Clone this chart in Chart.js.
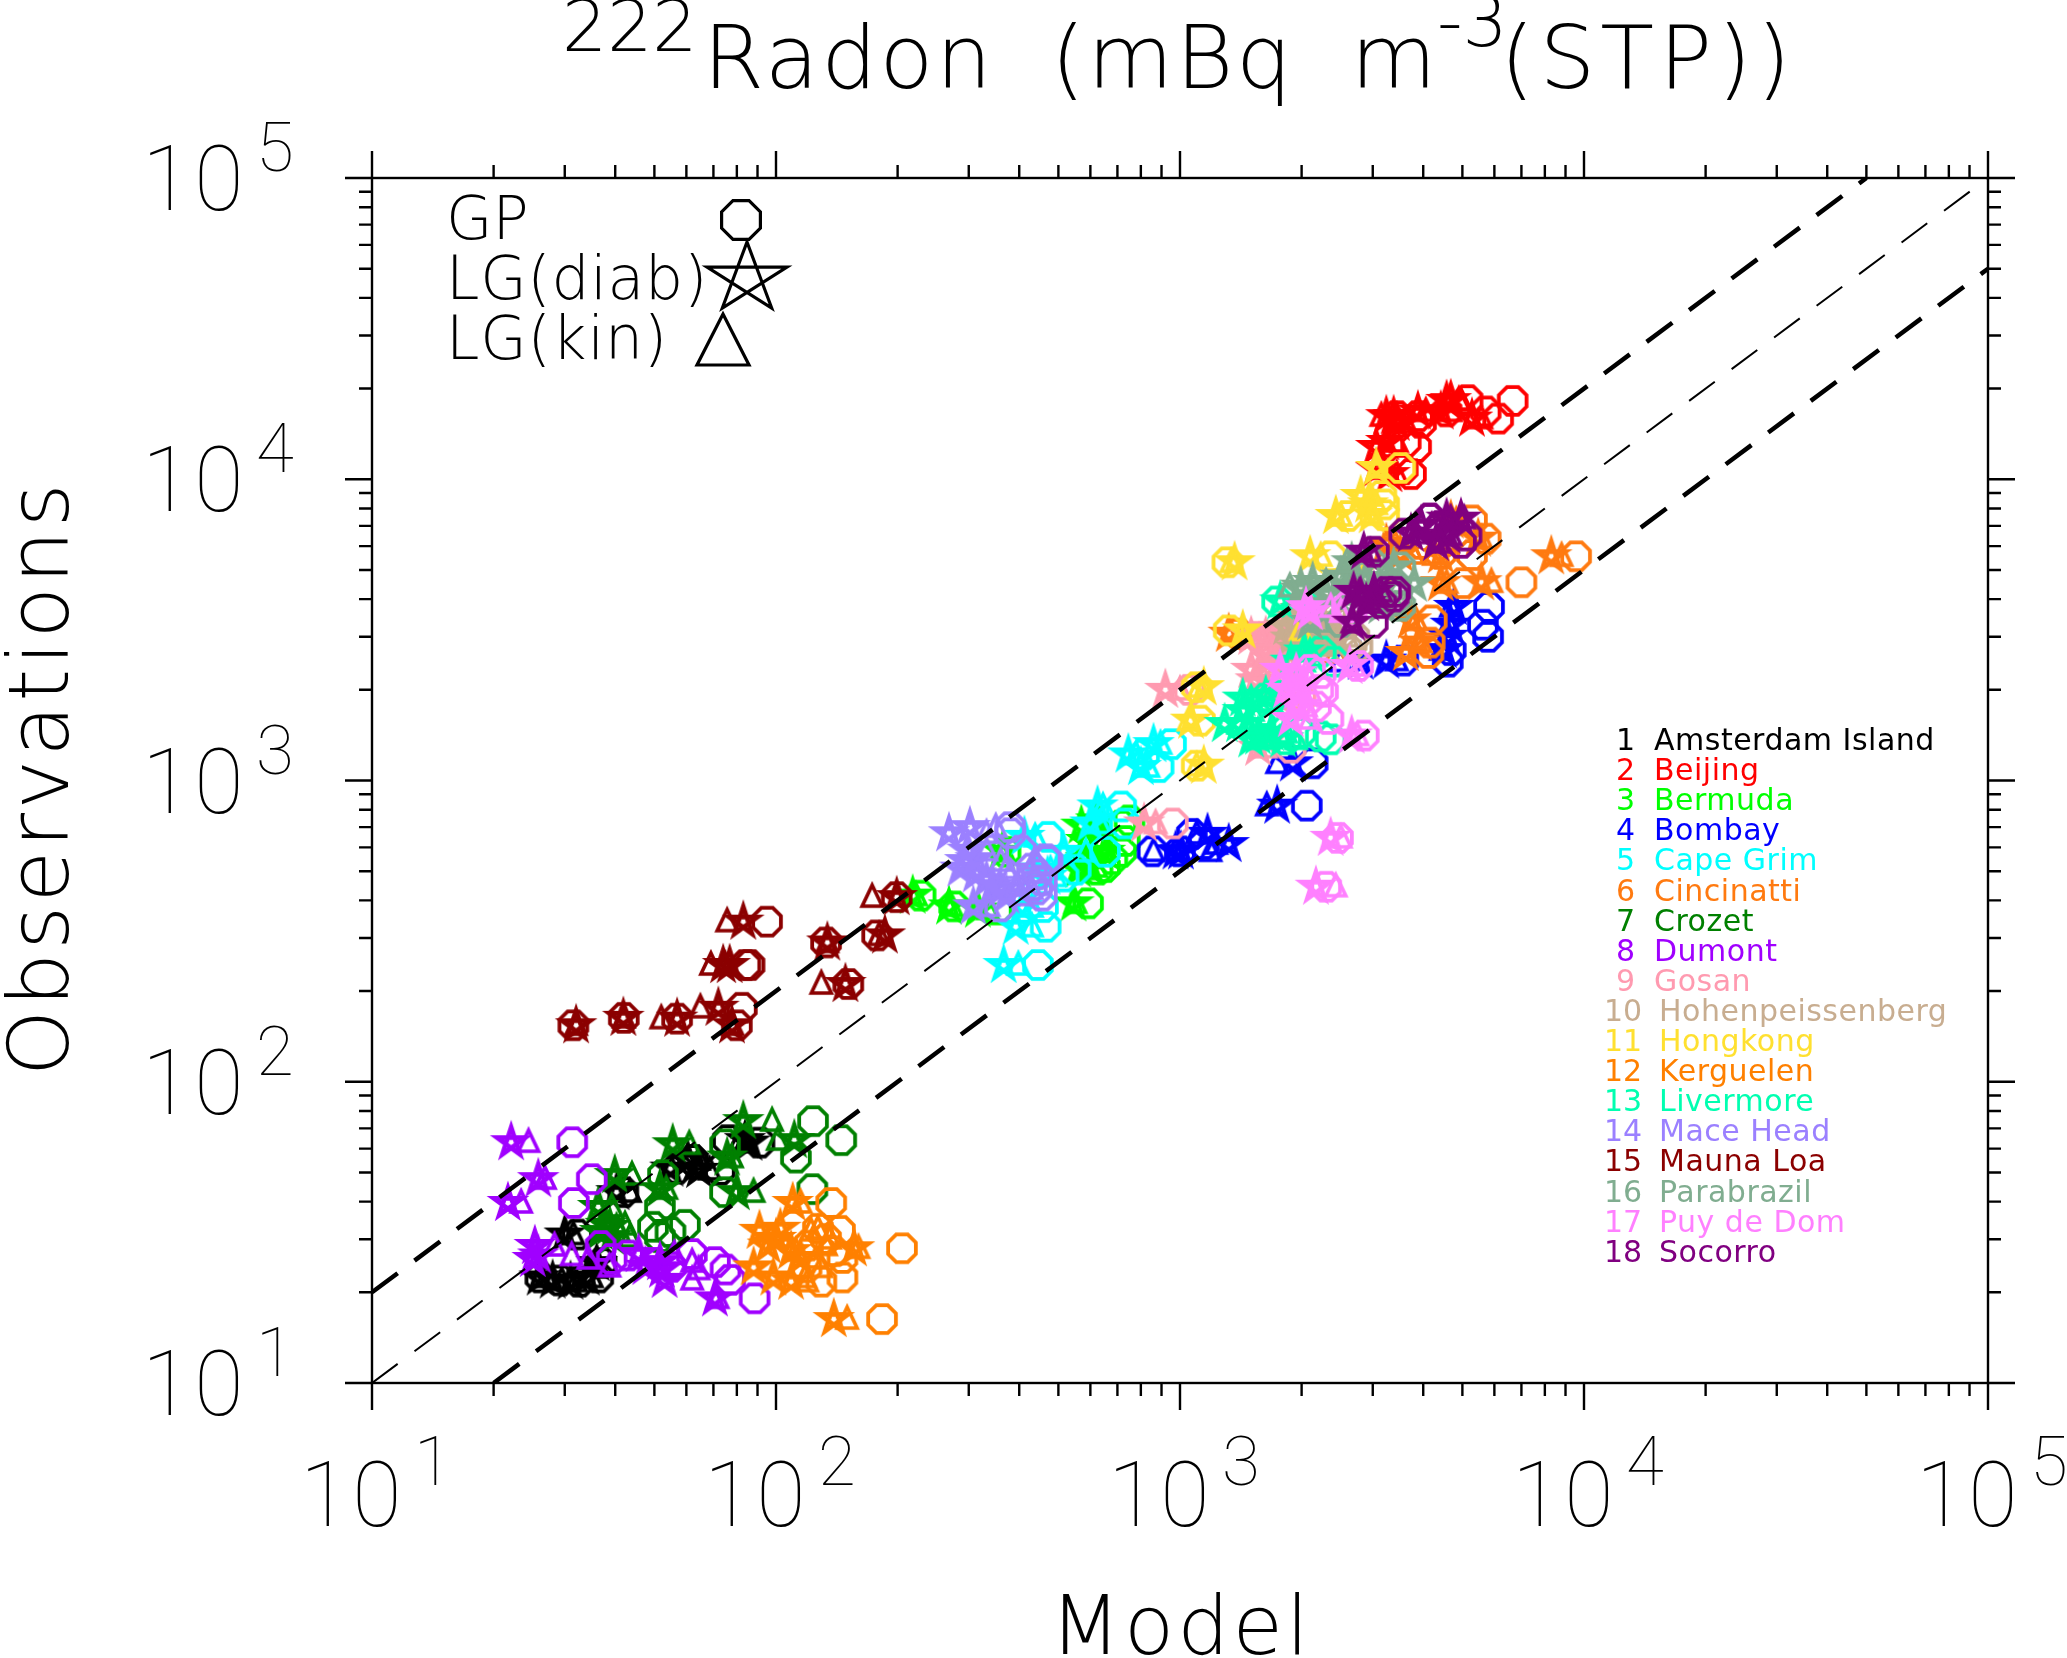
<!DOCTYPE html>
<html>
<head>
<meta charset="utf-8">
<title>222Radon</title>
<script src="https://cdn.jsdelivr.net/npm/chart.js@4"></script>
<style>
    html, body { margin: 0; padding: 0; background: #fff; }
    canvas { display: block; }
</style>
</head>
<body>
<canvas id="radonChart" width="2067" height="1658"></canvas>
<script>
// observations + model values, one row per month (GP octagon, LG diabatic star, LG kinematic triangle)
const stationNames = ['Amsterdam Island', 'Beijing', 'Bermuda', 'Bombay', 'Cape Grim', 'Cincinatti', 'Crozet', 'Dumont', 'Gosan',
    'Hohenpeissenberg', 'Hongkong', 'Kerguelen', 'Livermore', 'Mace Head', 'Mauna Loa', 'Parabrazil', 'Puy de Dom', 'Socorro'];
const stationColors = ['#000000', '#ff0000', '#00ff00', '#0000ff', '#00ffff', '#ff7a10', '#008000', '#a000ff', '#ff9ab0',
    '#c8ad90', '#ffe030', '#ff8000', '#00ffb0', '#9b80ff', '#8b0000', '#80ad90', '#ff80ff', '#800080'];

const amsterdamObs = [22.4, 21.9, 21.7, 22.4, 25, 31.1, 43, 51.5, 55, 51, 64, 62.8];
const amsterdamDiab = [26, 28, 31, 34, 36, 30, 40.3, 54.8, 60.5, 64.5, 83.8, 86];
const amsterdamKin = [27, 29.5, 32, 35, 36, 31.5, 43.5, 63.4, 64.5, 68.5, 81.5, 83.8];
const amsterdamGP = [26.1, 29.2, 32.6, 36.3, 37, 32.2, 41.9, 56.9, 62.3, 72.6, 76, 91];

const beijingObs = [18200, 15900, 18300, 16800, 16800, 16200, 16200, 15400, 12800, 13300, 10400, 10800];
const beijingDiab = [4570, 5280, 4680, 4420, 3880, 3380, 3240, 3440, 3060, 3240, 3300, 3060];
const beijingKin = [4960, 5570, 4900, 4680, 4060, 3440, 3150, 3620, 3240, 3440, 3440, 3110];
const beijingGP = [6660, 6130, 5150, 5710, 4570, 3880, 3440, 3950, 3840, 3620, 3730, 3560];

const bermudaObs = [415, 382, 373, 391, 580, 708, 737, 630, 580, 506, 516, 548];
const bermudaDiab = [218, 268, 316, 545, 363, 570, 620, 585, 652, 560, 600, 585];
const bermudaKin = [222, 272, 335, 552, 367, 633, 633, 645, 660, 600, 620, 575];
const bermudaGP = [228, 276, 352, 592, 370, 715, 750, 730, 715, 625, 652, 680];

const bombayObs = [582, 582, 665, 615, 1140, 825, 2500, 2480, 3770, 3290, 3000, 2710];
const bombayDiab = [975, 1005, 1170, 1320, 1902, 1740, 3240, 2800, 4770, 4680, 4600, 4500];
const bombayKin = [860, 1190, 1100, 1230, 1740, 1640, 3440, 2500, 4680, 4630, 4550, 4420];
const bombayGP = [855, 1000, 1070, 1145, 2130, 2060, 3570, 4600, 5820, 5620, 5790, 4680];

const capeGrimObs = [244, 327, 380, 650, 820, 720, 580, 480, 1320, 1108, 1220, 506];
const capeGrimDiab = [366, 392, 408, 412, 625, 600, 515, 470, 860, 800, 745, 438];
const capeGrimKin = [398, 430, 430, 438, 645, 633, 585, 492, 895, 835, 778, 478];
const capeGrimGP = [445, 465, 458, 472, 715, 730, 652, 515, 950, 885, 815, 552];

const cincinattiObs = [5550, 4550, 6350, 5600, 4520, 7300, 6100, 5650, 3400, 2870, 2650, 3070];
const cincinattiDiab = [8300, 5570, 5470, 4420, 4420, 4680, 3240, 3510, 3730, 3900, 3620, 1320];
const cincinattiKin = [8800, 5900, 5570, 4250, 4570, 4830, 3410, 3773, 3840, 3950, 2430, 1340];
const cincinattiGP = [9560, 7000, 5710, 5280, 5010, 5280, 3950, 4420, 4200, 4150, 4120, 1395];

const crozetObs = [74, 64, 56, 62, 49, 43, 44, 38.4, 33.5, 33, 30.5, 31.7];
const crozetDiab = [83, 111, 75.7, 55.5, 39.9, 80, 51.6, 36.3, 37.9, 38.8, 39.2, 36.7];
const crozetKin = [97.8, 101, 77.8, 61, 44, 88, 53.5, 39.2, 42.3, 40.3, 43.5, 40.9];
const crozetGP = [123.5, 145, 112, 74.8, 52.5, 74.8, 123, 51.6, 59.5, 49.6, 51.6, 54.8];

const dumontObs = [63, 47.5, 39.6, 28.5, 26.5, 26.8, 25.2, 23.8, 22, 19.1, 25.8, 24.3];
const dumontDiab = [22.1, 25.8, 21.7, 25.3, 25.8, 45.7, 51.6, 52.2, 53, 70.6, 25, 47.5];
const dumontKin = [24.4, 26.8, 23.4, 28.3, 31.2, 56, 62, 64.3, 62, 71.7, 34.3, 38.7];
const dumontGP = [31.3, 35, 31.6, 36.8, 43, 61.9, 70.6, 75, 77, 88.5, 39.2, 55];

const gosanObs = [2000, 2330, 3000, 3050, 3100, 2150, 1285, 720, 2700, 2530, 1870, 3000];
const gosanDiab = [920, 1500, 1500, 1740, 1770, 1540, 1560, 815, 1630, 1680, 1770, 1630];
const gosanKin = [1000, 1570, 1570, 1830, 1880, 1680, 1630, 870, 1720, 1830, 1880, 1720];
const gosanGP = [1055, 1710, 1560, 1880, 1990, 1770, 1880, 960, 1830, 1990, 1990, 1770];

const hohenObs = [2960, 2740, 3240, 3680, 3470, 3080, 2850, 3150, 3570, 3310, 3000, 2790];
const hohenDiab = [1880, 1940, 1830, 1990, 1940, 2100, 2300, 1990, 2050, 2170, 2430, 2100];
const hohenKin = [1990, 2100, 2050, 2130, 2170, 2300, 2430, 2230, 2230, 2360, 2590, 2230];
const hohenGP = [2360, 2590, 2300, 2260, 2430, 2500, 2660, 2430, 2360, 2590, 2700, 2750];

const hongkongObs = [5300, 7550, 8250, 7600, 5550, 3150, 2040, 1580, 1120, 10900, 4800, 8800];
const hongkongDiab = [1365, 2430, 2920, 2980, 2100, 1430, 1145, 1065, 1145, 3060, 2690, 2800];
const hongkongKin = [1340, 2500, 3060, 3000, 2230, 1990, 1115, 1050, 1100, 3090, 2850, 2960];
const hongkongGP = [1310, 2600, 3200, 3200, 2360, 1320, 1100, 1120, 1100, 3510, 3060, 3150];

const kerguelenObs = [16.3, 28, 39.6, 32, 32.5, 22.4, 21.7, 24.2, 28.6, 26, 30.1, 27.4];
const kerguelenDiab = [139, 156, 110, 91, 102.5, 98.5, 109, 88, 95.5, 115, 100, 109];
const kerguelenKin = [150, 160, 115, 122, 127, 118, 119.5, 129.5, 133, 126, 136, 112];
const kerguelenGP = [183, 205, 137, 144, 127, 146, 129.5, 119, 120, 146, 133, 139];

const livermoreObs = [3930, 2480, 2680, 1870, 1910, 1540, 1400, 1370, 1440, 1370, 1540, 1700];
const livermoreDiab = [1770, 1880, 2030, 1430, 1630, 1290, 1560, 1800, 1680, 1500, 1400, 1430];
const livermoreKin = [2120, 2030, 2100, 1500, 1680, 1395, 1680, 1940, 1830, 1600, 1470, 1514];
const livermoreGP = [1740, 2400, 2230, 1630, 1720, 1710, 2230, 2360, 1990, 1830, 1580, 1630];

const maceHeadObs = [668, 700, 585, 540, 510, 488, 466, 446, 435, 415, 382, 548];
const maceHeadDiab = [268, 302, 298, 294, 286, 312, 332, 344, 360, 372, 308, 312];
const maceHeadKin = [332, 350, 332, 360, 372, 380, 404, 393, 430, 404, 336, 438];
const maceHeadGP = [380, 380, 404, 470, 430, 442, 455, 430, 442, 455, 358, 465];

const maunaLoaObs = [154, 163, 162, 176, 154, 244, 340, 211, 290, 306, 410, 244];
const maunaLoaDiab = [32, 41.9, 56.9, 72, 77.8, 76.8, 83, 148.5, 134, 186, 199, 74];
const maunaLoaKin = [32, 42, 52, 65, 78, 69, 75.7, 129.5, 134, 180, 173, 74.8];
const maunaLoaGP = [31.5, 42, 56.9, 82.3, 80, 86, 95, 151, 133, 178, 199, 84];

const parabrazilObs = [4400, 4750, 4560, 5100, 4500, 4700, 3800, 3360, 5300, 4150, 4300, 4030];
const parabrazilDiab = [1990, 2500, 2130, 3380, 3800, 2890, 3150, 2100, 2660, 2300, 1990, 2960];
const parabrazilKin = [1870, 2660, 2300, 3240, 3510, 2920, 3410, 2230, 2590, 2430, 2100, 3150];
const parabrazilGP = [2430, 2890, 2590, 3510, 3380, 3150, 3510, 2500, 2960, 3060, 2660, 3440];

const puyObs = [645, 444, 1410, 2400, 3760, 3620, 2330, 2270, 1970, 1760, 1600, 2000];
const puyDiab = [2360, 2170, 2660, 2630, 2050, 2100, 1770, 1940, 1940, 1960, 1880, 1830];
const puyKin = [2500, 2430, 2750, 2700, 2360, 2500, 1940, 2050, 2100, 2050, 2100, 1990];
const puyGP = [2460, 2300, 2850, 2760, 2590, 2660, 2100, 2230, 2260, 2170, 2330, 2200];

const socorroObs = [7400, 6500, 6600, 7400, 5750, 4230, 4230, 3340, 7000, 4080, 3880, 6150];
const socorroDiab = [4960, 4600, 3730, 4570, 2850, 2690, 3020, 2670, 3950, 2800, 2890, 4300];
const socorroKin = [5050, 4680, 3840, 4680, 2960, 2780, 3150, 2670, 4200, 3060, 2960, 4420];
const socorroGP = [4150, 5120, 3590, 4150, 3020, 3410, 3240, 3000, 4420, 3380, 3150, 4960];

// reference lines (1:1, 2:1, 1:2)
const oneToOneX = [10, 100000];
const oneToOneY = [10, 100000];
const upperLineX = [10, 50000];
const upperLineY = [20, 100000];
const lowerLineX = [20, 100000];
const lowerLineY = [10, 50000];

const decades = [10, 100, 1000, 10000, 100000];
const decadeExponents = ['1', '2', '3', '4', '5'];
const minorSteps = [2, 3, 4, 5, 6, 7, 8, 9];

const stationSeries = [
    [amsterdamObs, amsterdamGP, amsterdamDiab, amsterdamKin],
    [beijingObs, beijingGP, beijingDiab, beijingKin],
    [bermudaObs, bermudaGP, bermudaDiab, bermudaKin],
    [bombayObs, bombayGP, bombayDiab, bombayKin],
    [capeGrimObs, capeGrimGP, capeGrimDiab, capeGrimKin],
    [cincinattiObs, cincinattiGP, cincinattiDiab, cincinattiKin],
    [crozetObs, crozetGP, crozetDiab, crozetKin],
    [dumontObs, dumontGP, dumontDiab, dumontKin],
    [gosanObs, gosanGP, gosanDiab, gosanKin],
    [hohenObs, hohenGP, hohenDiab, hohenKin],
    [hongkongObs, hongkongGP, hongkongDiab, hongkongKin],
    [kerguelenObs, kerguelenGP, kerguelenDiab, kerguelenKin],
    [livermoreObs, livermoreGP, livermoreDiab, livermoreKin],
    [maceHeadObs, maceHeadGP, maceHeadDiab, maceHeadKin],
    [maunaLoaObs, maunaLoaGP, maunaLoaDiab, maunaLoaKin],
    [parabrazilObs, parabrazilGP, parabrazilDiab, parabrazilKin],
    [puyObs, puyGP, puyDiab, puyKin],
    [socorroObs, socorroGP, socorroDiab, socorroKin]
];

// marker shapes, drawn around 0,0
function traceOctagon(ctx, r) {
    ctx.beginPath();
    for (let i = 0; i < 8; i++) {
        const a = Math.PI / 8 + i * Math.PI / 4;
        ctx.lineTo(r * Math.cos(a), r * Math.sin(a));
    }
    ctx.closePath();
}

function traceStar(ctx, r) {
    ctx.beginPath();
    for (let i = 0; i < 5; i++) {
        const a = -Math.PI / 2 + i * 4 * Math.PI / 5;
        ctx.lineTo(r * Math.cos(a), r * Math.sin(a));
    }
    ctx.closePath();
}

function traceTriangle(ctx, halfWidth, top, bottom) {
    ctx.beginPath();
    ctx.moveTo(0, -top);
    ctx.lineTo(halfWidth, bottom);
    ctx.lineTo(-halfWidth, bottom);
    ctx.closePath();
}

function makeMarker(shape, color) {
    const c = document.createElement('canvas');
    c.width = 64;
    c.height = 64;
    const ctx = c.getContext('2d');
    ctx.translate(32, 32);
    ctx.strokeStyle = color;
    ctx.miterLimit = 6;
    if (shape === 'gp') {
        ctx.lineWidth = 3.8;
        traceOctagon(ctx, 15);
    } else if (shape === 'diab') {
        ctx.lineWidth = 4.6;
        traceStar(ctx, 15);
    } else {
        ctx.lineWidth = 3.6;
        traceTriangle(ctx, 10, 12, 9);
    }
    ctx.stroke();
    return c;
}

const datasets = [
    { data: oneToOneX.map((x, i) => ({ x, y: oneToOneY[i] })), borderWidth: 2 },
    { data: upperLineX.map((x, i) => ({ x, y: upperLineY[i] })), borderWidth: 4.5 },
    { data: lowerLineX.map((x, i) => ({ x, y: lowerLineY[i] })), borderWidth: 4.5 }
].map(line => ({
    ...line,
    showLine: true,
    borderColor: '#000',
    borderDash: [32, 21],
    pointRadius: 0,
    order: -1000
}));

stationSeries.forEach((series, s) => {
    ['gp', 'diab', 'kin'].forEach((shape, k) => {
        datasets.push({
            label: stationNames[s] + ' ' + shape,
            data: series[k + 1].map((x, i) => ({ x, y: series[0][i] })),
            showLine: false,
            pointStyle: makeMarker(shape, stationColors[s]),
            order: -(s * 3 + k)
        });
    });
});

// opts.width stretches the letter spacing so the text spans that many pixels
function drawText(ctx, text, x, y, size, opts = {}) {
    ctx.save();
    ctx.font = `${opts.weight || '200'} ${size}px ${opts.font || "'DejaVu Sans'"}`;
    ctx.fillStyle = opts.color || '#000';
    ctx.textAlign = 'left';
    ctx.textBaseline = 'alphabetic';
    ctx.wordSpacing = (opts.wordSpacing || 0) + 'px';
    let spacing = opts.spacing || 0;
    if (opts.width) spacing = (opts.width - ctx.measureText(text).width) / text.length;
    ctx.letterSpacing = spacing + 'px';
    ctx.translate(x, y);
    if (opts.rotate) ctx.rotate(opts.rotate);
    ctx.fillText(text, 0, 0);
    ctx.restore();
}

// axes frame, ticks and every label are drawn here from the chart's own scales
const frameAndText = {
    id: 'frameAndText',
    afterDraw(chart) {
        const ctx = chart.ctx;
        const { left, right, top, bottom } = chart.chartArea;
        const sx = chart.scales.x;
        const sy = chart.scales.y;
        const majorLen = 27;
        const minorLen = 13;

        ctx.save();
        ctx.strokeStyle = '#000';
        ctx.lineWidth = 2.4;
        ctx.strokeRect(left, top, right - left, bottom - top);

        ctx.beginPath();
        const tickX = (v, len) => {
            const p = sx.getPixelForValue(v);
            ctx.moveTo(p, bottom); ctx.lineTo(p, bottom + len);
            ctx.moveTo(p, top); ctx.lineTo(p, top - len);
        };
        const tickY = (v, len) => {
            const p = sy.getPixelForValue(v);
            ctx.moveTo(left, p); ctx.lineTo(left - len, p);
            ctx.moveTo(right, p); ctx.lineTo(right + len, p);
        };
        decades.forEach((d, i) => {
            tickX(d, majorLen);
            tickY(d, majorLen);
            if (i < decades.length - 1) {
                minorSteps.forEach(m => {
                    tickX(d * m, minorLen);
                    tickY(d * m, minorLen);
                });
            }
        });
        ctx.stroke();
        ctx.restore();

        // tick labels
        const tickFont = { font: 'Roboto', weight: '100' };
        decades.forEach((d, i) => {
            const px = sx.getPixelForValue(d);
            drawText(ctx, '10', px - 72, 1526, 90, { ...tickFont, spacing: 3 });
            drawText(ctx, decadeExponents[i], px + 42, 1485, 69, tickFont);
            const py = sy.getPixelForValue(d);
            drawText(ctx, '10', 142, py + 32, 90, { ...tickFont, spacing: 3 });
            drawText(ctx, decadeExponents[i], 256, py - 7, 69, tickFont);
        });

        // title and axis titles
        drawText(ctx, '222', 562, 51, 71);
        drawText(ctx, 'Radon (mBq m', 703, 88, 88, { width: 736, wordSpacing: 26 });
        drawText(ctx, '-3', 1437, 46, 71);
        drawText(ctx, '(STP))', 1500, 88, 88, { width: 296 });
        drawText(ctx, 'Model', 1050, 1654, 82, { width: 262 });
        drawText(ctx, 'Observations', 68, 1076, 84, { rotate: -Math.PI / 2, width: 596 });

        // shape legend
        drawText(ctx, 'GP', 446, 239, 60);
        drawText(ctx, 'LG(diab)', 446, 299, 60, { width: 262 });
        drawText(ctx, 'LG(kin)', 446, 359, 60, { width: 222 });
        ctx.save();
        ctx.strokeStyle = '#000';
        ctx.lineWidth = 3.2;
        ctx.save();
        ctx.translate(741, 220);
        traceOctagon(ctx, 21);
        ctx.stroke();
        ctx.restore();
        ctx.save();
        ctx.translate(747, 278.5);
        ctx.scale(1, 0.87);
        traceStar(ctx, 42);
        ctx.restore();
        ctx.stroke();
        ctx.save();
        ctx.translate(723, 340);
        traceTriangle(ctx, 26, 26, 25);
        ctx.stroke();
        ctx.restore();
        ctx.restore();

        // station legend
        stationNames.forEach((name, i) => {
            const y = 750 + i * 30.1;
            const color = stationColors[i];
            const weight = '400';
            const numberX = i < 9 ? 1616 : 1604;
            const nameX = i < 9 ? 1654 : 1659;
            drawText(ctx, String(i + 1), numberX, y, 30, { color, weight });
            drawText(ctx, name, nameX, y, 30, { color, weight, spacing: 0.5 });
        });
    }
};

const axisFit = scale => {
    if (scale.isHorizontal()) scale.height = 0;
    else scale.width = 0;
};

new Chart(document.getElementById('radonChart').getContext('2d'), {
    type: 'scatter',
    data: { datasets },
    options: {
        responsive: false,
        devicePixelRatio: 1,
        animation: false,
        layout: { autoPadding: false, padding: { left: 372, right: 2067 - 1988, top: 178, bottom: 1658 - 1383 } },
        plugins: { legend: { display: false }, tooltip: { enabled: false }, title: { display: false } },
        scales: {
            x: {
                type: 'logarithmic', min: 10, max: 100000, afterFit: axisFit,
                grid: { display: false }, border: { display: false }, ticks: { display: false }
            },
            y: {
                type: 'logarithmic', min: 10, max: 100000, afterFit: axisFit,
                grid: { display: false }, border: { display: false }, ticks: { display: false }
            }
        }
    },
    plugins: [frameAndText]
});
</script>
</body>
</html>
